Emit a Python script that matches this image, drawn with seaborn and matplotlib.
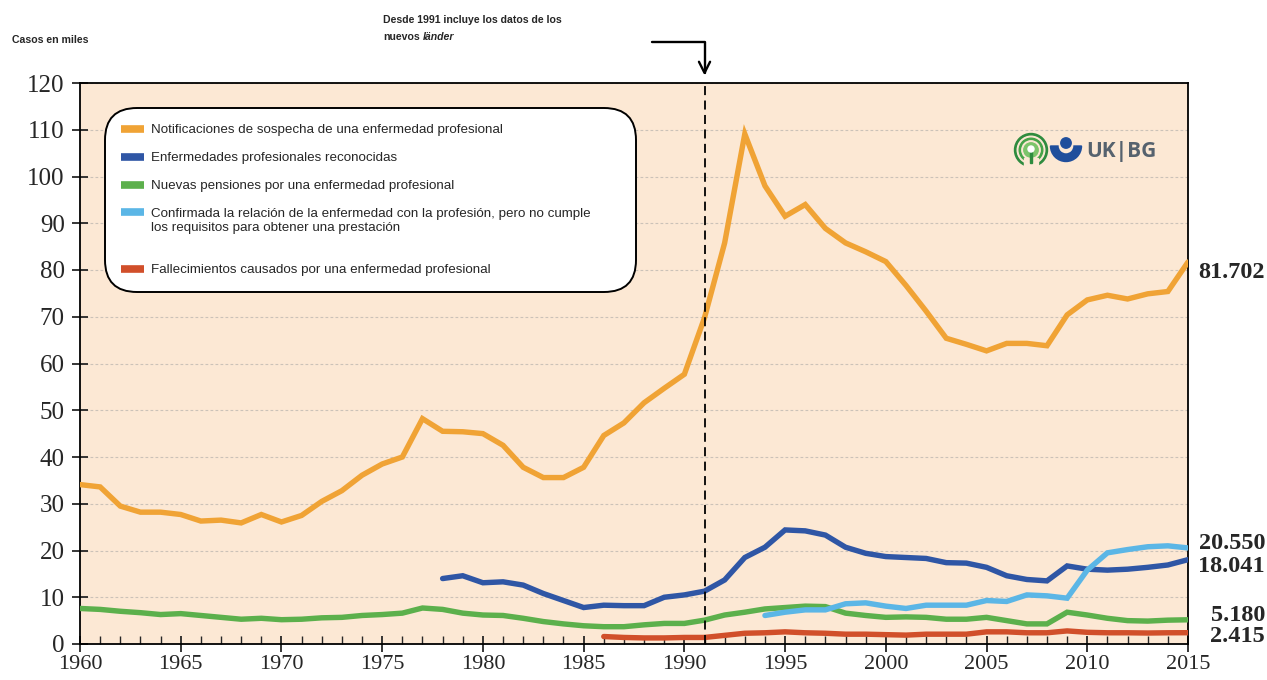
import matplotlib
matplotlib.use('Agg')
import matplotlib.pyplot as plt
import matplotlib.patches as mpatches
import matplotlib.transforms as mtransforms
from matplotlib.ticker import MultipleLocator
import numpy as np
import pandas as pd
import seaborn as sns

# ---------------- data (thousands of cases) ----------------
years = list(range(1960, 2016))
notificaciones = [34.1, 33.6, 29.5, 28.2, 28.2, 27.7, 26.3, 26.5, 25.9, 27.7,
                  26.1, 27.5, 30.5, 32.8, 36.1, 38.5, 40.0, 48.2, 45.5, 45.4,
                  45.0, 42.5, 37.8, 35.6, 35.6, 37.8, 44.6, 47.3, 51.6, 54.7,
                  57.7, 69.8, 85.8, 109.1, 98.0, 91.5, 94.0, 88.9, 85.8, 83.9,
                  81.8, 76.7, 71.2, 65.4, 64.1, 62.7, 64.3, 64.3, 63.8, 70.4,
                  73.6, 74.6, 73.8, 74.9, 75.4, 81.702]
pensiones = [7.6, 7.4, 7.0, 6.7, 6.3, 6.5, 6.1, 5.7, 5.3, 5.5,
             5.2, 5.3, 5.6, 5.7, 6.1, 6.3, 6.6, 7.7, 7.4, 6.6,
             6.2, 6.1, 5.5, 4.8, 4.3, 3.9, 3.7, 3.7, 4.1, 4.4,
             4.4, 5.1, 6.2, 6.8, 7.5, 7.8, 8.1, 8.0, 6.6, 6.1,
             5.7, 5.8, 5.7, 5.3, 5.3, 5.7, 5.0, 4.3, 4.3, 6.8,
             6.2, 5.5, 5.0, 4.9, 5.1, 5.18]
reconocidas_years = list(range(1978, 2016))
reconocidas = [14.0, 14.6, 13.1, 13.3, 12.6, 10.8, 9.3, 7.8, 8.3, 8.2,
               8.2, 10.0, 10.5, 11.3, 13.7, 18.5, 20.7, 24.4, 24.2, 23.3,
               20.7, 19.4, 18.7, 18.5, 18.3, 17.4, 17.3, 16.4, 14.6, 13.8,
               13.5, 16.7, 16.0, 15.8, 16.0, 16.4, 16.9, 18.041]
confirmada_years = list(range(1994, 2016))
confirmada = [6.1, 6.8, 7.3, 7.3, 8.6, 8.8, 8.1, 7.6, 8.3, 8.3,
              8.3, 9.3, 9.1, 10.5, 10.3, 9.8, 15.8, 19.5, 20.2, 20.8,
              21.0, 20.55]
fallecimientos_years = list(range(1986, 2016))
fallecimientos = [1.6, 1.4, 1.3, 1.3, 1.4, 1.4, 1.85, 2.3, 2.4, 2.6,
                  2.4, 2.3, 2.1, 2.1, 2.0, 1.9, 2.1, 2.1, 2.1, 2.6,
                  2.6, 2.4, 2.4, 2.8, 2.5, 2.4, 2.4, 2.35, 2.4, 2.415]

labels = ['Notificaciones de sospecha de una enfermedad profesional',
          'Enfermedades profesionales reconocidas',
          'Nuevas pensiones por una enfermedad profesional',
          'Confirmada la relación de la enfermedad con la profesión, pero no cumple\n'
          'los requisitos para obtener una prestación\n',
          'Fallecimientos causados por una enfermedad profesional']
colors = ['#F0A335', '#2F56A5', '#5CB04C', '#5BB6E6', '#D14F2A']

end_labels = ['81.702', '20.550', '18.041', '5.180', '2.415']
end_label_y = [79.5, 21.4, 16.6, 6.2, 1.6]

sns.set_style('ticks')
plt.rcParams['font.family'] = ['Liberation Sans', 'DejaVu Sans']

fig = plt.figure(figsize=(12.67, 6.8), dpi=100)
ax = fig.add_axes([80 / 1267, 1 - 644 / 680, 1108 / 1267, 561 / 680])
ax.set_facecolor('#FCE8D4')

series = [(years, notificaciones), (reconocidas_years, reconocidas),
          (years, pensiones), (confirmada_years, confirmada),
          (fallecimientos_years, fallecimientos)]
for (xs, ys), lab, col in zip(series, labels, colors):
    df = pd.DataFrame({'year': xs, 'value': ys})
    sns.lineplot(data=df, x='year', y='value', color=col, lw=3.9, label=lab, ax=ax,
                 solid_joinstyle='miter', zorder=3)

ax.axvline(1991, color='black', lw=1.3, ls=(0, (5, 3)), zorder=4)

ax.set_xlim(1960, 2015)
ax.set_ylim(0, 120)
ax.set_xlabel('')
ax.set_ylabel('')
ax.yaxis.set_major_locator(MultipleLocator(10))
ax.xaxis.set_major_locator(MultipleLocator(5))
ax.xaxis.set_minor_locator(MultipleLocator(1))
ax.grid(axis='y', color='#cbc2b8', lw=0.8, ls=(0, (2.5, 2)), zorder=1)
ax.tick_params(axis='y', direction='inout', length=12, width=1.3, labelsize=18, pad=5)
ax.tick_params(axis='x', which='major', direction='inout', length=12, width=1.3,
               labelsize=16, pad=2)
ax.tick_params(axis='x', which='minor', direction='in', length=6, width=1.0)
for lab in ax.get_xticklabels() + ax.get_yticklabels():
    lab.set_fontfamily('Liberation Serif')
for sp in ax.spines.values():
    sp.set_visible(True)
    sp.set_color('black')
    sp.set_linewidth(1.3)

leg_fs = 9.6
leg = ax.legend(loc='upper left', bbox_to_anchor=(0.019, 0.962, 0.486, 0.0),
                mode='expand', fontsize=leg_fs, handlelength=1.7, handleheight=0.5,
                handletextpad=0.55, labelspacing=1.2, borderpad=1.0,
                frameon=True, fancybox=True)
frame = leg.get_frame()
frame.set_facecolor('white')
frame.set_alpha(1)
frame.set_edgecolor('black')
frame.set_linewidth(1.4)
frame.set_boxstyle('round', pad=0.2, rounding_size=2.4)
for i, h in enumerate(leg.get_lines()):
    h.set_linewidth(5.5)
    h.set_solid_capstyle('butt')
    if i == 3:
        # put the handle beside the first line of the two-line label
        h.set_ydata(np.asarray(h.get_ydata()) + 1.2 * leg_fs)
leg.set_zorder(6)

# values at the right edge
tr = mtransforms.blended_transform_factory(fig.transFigure, ax.transData)
for txt, yv in zip(end_labels, end_label_y):
    ax.text(1265 / 1267, yv, txt, transform=tr, ha='right', va='center',
            fontsize=17.5, fontweight='bold', family='Liberation Serif', clip_on=False)

fig.text(12 / 1267, 1 - 40 / 680, 'Casos en miles', fontsize=7.6, fontweight='bold',
         va='center')
fig.text(383 / 1267, 1 - 20 / 680, 'Desde 1991 incluye los datos de los', fontsize=7.6,
         fontweight='bold', va='center')
t2 = fig.text(383 / 1267, 1 - 37 / 680, 'nuevos', fontsize=7.6, fontweight='bold',
              va='center')
ax.annotate('länder', xy=(1, 0.5), xycoords=t2, xytext=(2.5, 0), textcoords='offset points',
            fontsize=7.6, fontweight='bold', fontstyle='italic',
            va='center', ha='left', annotation_clip=False)

ax.annotate('', xy=(1991, 121.6), xycoords='data',
            xytext=(652 / 1267, 1 - 42 / 680), textcoords='figure fraction',
            arrowprops=dict(arrowstyle='->,head_length=0.8,head_width=0.4',
                            connectionstyle='angle,angleA=0,angleB=90,rad=0',
                            lw=1.7, color='black', shrinkA=0, shrinkB=0),
            annotation_clip=False)

# logo
lax = fig.add_axes([1010 / 1267, 1 - 172 / 680, 145 / 1267, 42 / 680])
lax.set_xlim(0, 145)
lax.set_ylim(0, 42)
lax.axis('off')
cx, cy = 21, 22
for r, c in [(16.5, '#2E8B3E'), (13.8, '#FCE8D4'), (11.8, '#45A348'), (9.2, '#FCE8D4'),
             (7.2, '#7CC46A')]:
    lax.add_patch(mpatches.Circle((cx, cy), r, color=c))
lax.add_patch(mpatches.Rectangle((cx - 7, cy - 18), 14, 10, color='#FCE8D4'))
lax.add_patch(mpatches.Rectangle((cx - 1.3, cy - 13), 2.6, 11, color='#2E8B3E'))
lax.add_patch(mpatches.Circle((cx, cy + 1), 3.0, color='white'))
lax.add_patch(mpatches.Circle((56, 29), 5.2, color='#1F4E9C'))
lax.add_patch(mpatches.Wedge((56, 26), 15.5, 180, 360, width=7.5, color='#1F4E9C'))
lax.text(76, 20, 'UK|BG', fontsize=15, fontweight='bold', color='#56626E',
         va='center', ha='left', family=['Open Sans', 'DejaVu Sans'])

fig.savefig('out.png', dpi=100)
